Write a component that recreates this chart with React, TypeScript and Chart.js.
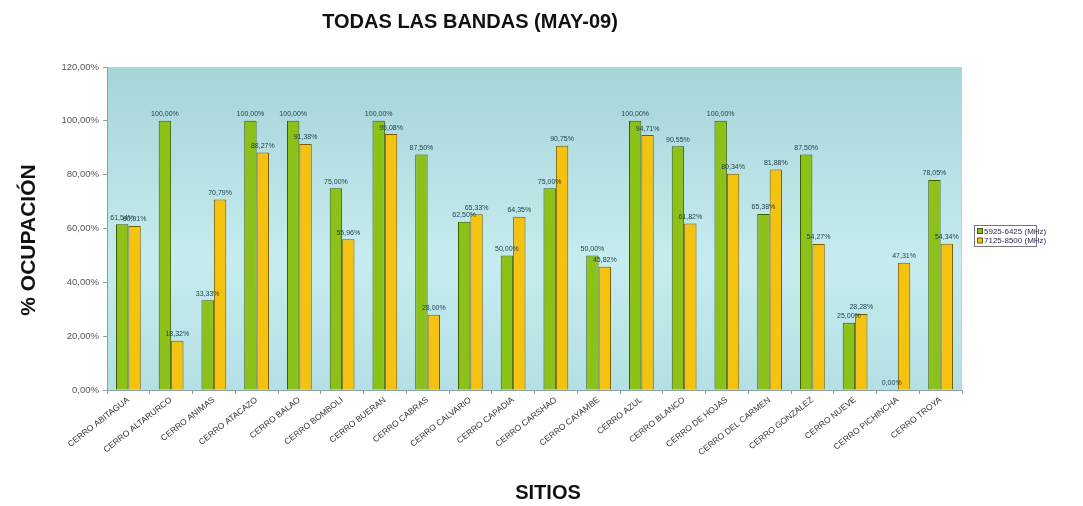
import React, { useEffect, useRef } from "react";
import { Chart, registerables } from "chart.js";
Chart.register(...registerables);

const categories = [
  "CERRO ABITAGUA", "CERRO ALTARURCO", "CERRO ANIMAS", "CERRO ATACAZO", "CERRO BALAO",
  "CERRO BOMBOLI", "CERRO BUERAN", "CERRO CABRAS", "CERRO CALVARIO", "CERRO CAPADIA",
  "CERRO CARSHAO", "CERRO CAYAMBE", "CERRO AZUL", "CERRO BLANCO", "CERRO DE HOJAS",
  "CERRO DEL CARMEN", "CERRO GONZALEZ", "CERRO NUEVE", "CERRO PICHINCHA", "CERRO TROYA",
];
const band1Values = [61.54, 100, 33.33, 100, 100, 75.0, 100, 87.5, 62.5, 50.0, 75.0, 50.0, 100, 90.55, 100, 65.38, 87.5, 25.0, 0.0, 78.05];
const band2Values = [60.91, 18.32, 70.79, 88.27, 91.38, 55.96, 95.08, 28.0, 65.33, 64.35, 90.75, 45.82, 94.71, 61.82, 80.34, 81.88, 54.27, 28.28, 47.31, 54.34];
const seriesNames = ["5925-6425 (MHz)", "7125-8500 (MHz)"];
const yTicks = [0, 20, 40, 60, 80, 100, 120];

const fmt = (v: number) => v.toFixed(2).replace(".", ",") + "%";
const FONT = "'Liberation Sans', Arial, sans-serif";

export default function App() {
  const ref = useRef<HTMLCanvasElement>(null);
  useEffect(() => {
    const canvas = ref.current!;
    const bgPlugin = {
      id: "bg",
      beforeDraw(chart: any) {
        const { ctx, chartArea: a } = chart;
        const g = ctx.createLinearGradient(0, a.top, 0, a.bottom);
        g.addColorStop(0, "#a5d4d8");
        g.addColorStop(0.6, "#c6ecef");
        g.addColorStop(1, "#b3e0e4");
        ctx.save();
        ctx.fillStyle = "#ffffff";
        ctx.fillRect(0, 0, chart.width, chart.height);
        ctx.fillStyle = g;
        ctx.fillRect(a.left, a.top, a.right - a.left, a.bottom - a.top);
        ctx.strokeStyle = "#c8d0d0";
        ctx.lineWidth = 1;
        ctx.strokeRect(a.left + 0.5, a.top + 0.5, a.right - a.left - 1, a.bottom - a.top);
        ctx.restore();
      },
    };
    const textPlugin = {
      id: "texts",
      afterDatasetsDraw(chart: any) {
        const { ctx } = chart;
        ctx.save();
        ctx.font = `7px ${FONT}`;
        ctx.fillStyle = "#1d3b4a";
        ctx.textAlign = "center";
        ctx.textBaseline = "bottom";
        chart.data.datasets.forEach((ds: any, di: number) => {
          const meta = chart.getDatasetMeta(di);
          meta.data.forEach((bar: any, i: number) => {
            ctx.fillText(fmt(ds.data[i]), bar.x, bar.y - 3);
          });
        });
        ctx.restore();
      },
      afterDraw(chart: any) {
        const { ctx } = chart;
        ctx.save();
        ctx.fillStyle = "#111";
        ctx.textAlign = "center";
        ctx.textBaseline = "middle";
        ctx.font = `bold 20px ${FONT}`;
        ctx.fillText("TODAS LAS BANDAS (MAY-09)", 470, 22);
        ctx.font = `bold 20px ${FONT}`;
        ctx.fillText("SITIOS", 548, 493);
        ctx.save();
        ctx.translate(29, 240);
        ctx.rotate(-Math.PI / 2);
        ctx.font = `bold 21px ${FONT}`;
        ctx.fillText("% OCUPACIÓN", 0, 0);
        ctx.restore();
        // legend
        const lx = 974, ly = 225, lw = 62, lh = 21;
        ctx.fillStyle = "#ffffff";
        ctx.fillRect(lx, ly, lw, lh);
        ctx.strokeStyle = "#777";
        ctx.lineWidth = 1;
        ctx.strokeRect(lx + 0.5, ly + 0.5, lw, lh);
        const cols = [["#8cc11a", "#3e5a00"], ["#f5c30f", "#7a5c00"]];
        ctx.font = `8px ${FONT}`;
        ctx.textAlign = "left";
        seriesNames.forEach((n, i) => {
          const y = ly + 6 + i * 9.5;
          ctx.fillStyle = cols[i][0];
          ctx.fillRect(lx + 3, y - 2.5, 5, 5);
          ctx.strokeStyle = cols[i][1];
          ctx.strokeRect(lx + 3.5, y - 2.5, 5, 5);
          ctx.fillStyle = "#2a2a5a";
          ctx.fillText(n, lx + 10, y + 0.5);
        });
        ctx.restore();
      },
    };
    const chart = new Chart(canvas, {
      type: "bar",
      data: {
        labels: categories,
        datasets: [
          {
            label: seriesNames[0],
            data: band1Values,
            backgroundColor: "#8cc11a",
            borderColor: "#3e5a00",
            borderWidth: 1,
            barPercentage: 1.0,
            categoryPercentage: 0.58,
          },
          {
            label: seriesNames[1],
            data: band2Values,
            backgroundColor: "#f5c30f",
            borderColor: "#7a5c00",
            borderWidth: 1,
            barPercentage: 1.0,
            categoryPercentage: 0.58,
          },
        ],
      },
      options: {
        responsive: false,
        animation: false,
        layout: { padding: { top: 67, right: 121, left: 0, bottom: 0 } },
        plugins: { legend: { display: false }, title: { display: false }, tooltip: { enabled: false } },
        scales: {
          x: {
            offset: true,
            grid: { offset: true, drawOnChartArea: false, drawTicks: true, tickLength: 4, color: "#8aa0a8" },
            border: { color: "#8aa0a8" },
            ticks: {
              maxRotation: 38,
              minRotation: 38,
              autoSkip: false,
              color: "#333",
              font: { size: 8.5, family: FONT },
              padding: 1,
            },
            afterFit(scale: any) {
              scale.height = 116;
            },
          },
          y: {
            min: 0,
            max: 120,
            afterBuildTicks(scale: any) {
              scale.ticks = yTicks.map((v) => ({ value: v }));
            },
            grid: { drawOnChartArea: false, drawTicks: true, tickLength: 4, color: "#8aa0a8" },
            border: { color: "#8aa0a8" },
            ticks: {
              color: "#555",
              font: { size: 9.5, family: FONT },
              padding: 4,
              callback: (v: any) => fmt(Number(v)),
            },
            afterFit(scale: any) {
              scale.width = 107;
            },
          },
        },
      },
      plugins: [bgPlugin, textPlugin],
    });
    return () => chart.destroy();
  }, []);
  return (
    <div style={{ position: "fixed", left: 0, top: 0, width: 1083, height: 506, background: "#fff" }}>
      <canvas ref={ref} width={1083} height={506} style={{ display: "block" }} />
    </div>
  );
}
